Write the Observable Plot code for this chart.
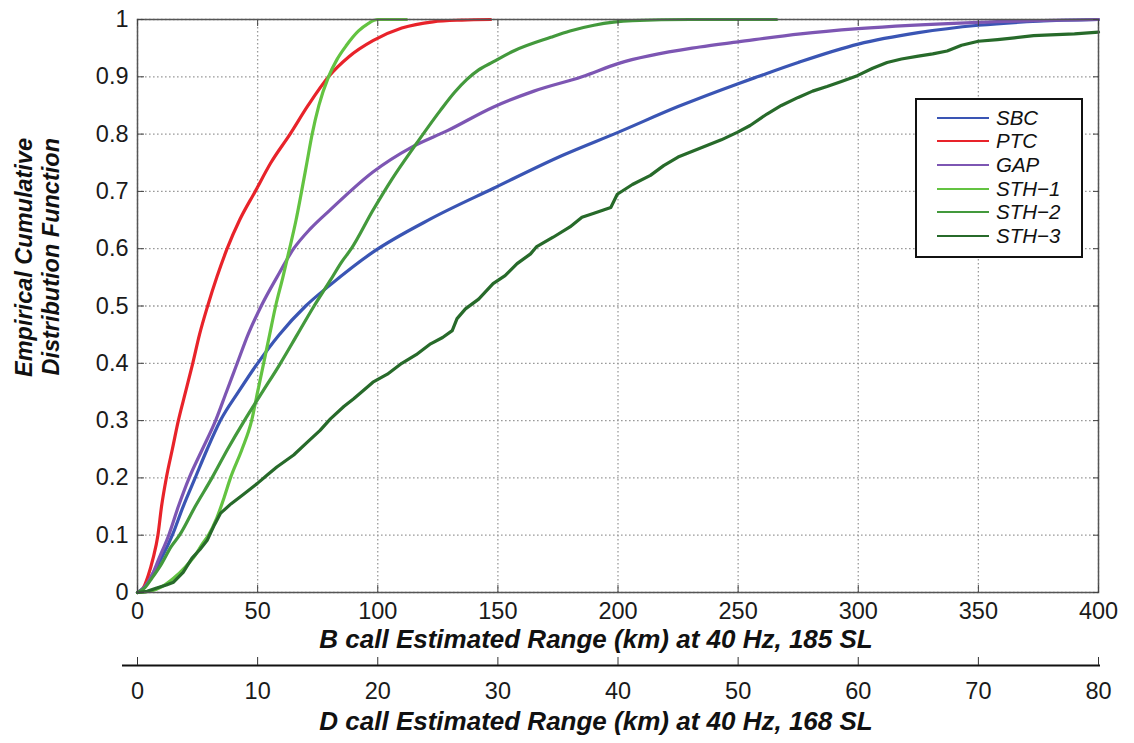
<!DOCTYPE html>
<html><head><meta charset="utf-8">
<script src="https://cdn.jsdelivr.net/npm/d3@7"></script>
<script src="https://cdn.jsdelivr.net/npm/@observablehq/plot@0.6"></script>
<style>
body{margin:0;background:#fff;font-family:"Liberation Sans",Arial,sans-serif;}
#wrap{position:relative;width:1134px;height:743px;overflow:hidden;}
#wrap svg{display:block;}
#legend{position:absolute;left:915px;top:98px;width:168px;height:160px;border:2px solid #111;background:#fff;box-sizing:border-box;padding-top:6px;}
.row{display:flex;align-items:center;height:23.6px;}
.sw{width:52px;height:2px;margin-left:20px;margin-right:7px;}
.lab{display:inline-block;font-style:italic;font-size:20.5px;color:#111;line-height:22px;height:22px;}
</style></head><body><div id="wrap"></div>
<script>
// ---- data ----
const seriesNames = ["SBC", "PTC", "GAP", "STH\u22121", "STH\u22122", "STH\u22123"];
const seriesColors = ["#3a55b4", "#e8232a", "#7d56b3", "#63c341", "#43993c", "#276a2a"];

const sbcX = [0,3,6,10,14.5,19,24,29,34.5,42,50,59,70,80,98,122,148,177,200,225,250,258,275,300,325,350,375,400];
const sbcY = [0,0.01,0.03,0.06,0.1,0.15,0.2,0.25,0.3,0.35,0.4,0.45,0.5,0.536,0.594,0.652,0.705,0.763,0.803,0.848,0.888,0.9,0.925,0.957,0.977,0.99,0.997,1];

const ptcX = [0,2,4.5,6.5,8.5,10,12,14.5,17,20,23,25.8,29.2,33,37.3,42.5,49,55.5,63.5,71,79.5,88,98,110,123,135,147];
const ptcY = [0,0.005,0.03,0.06,0.1,0.15,0.2,0.25,0.3,0.35,0.4,0.45,0.5,0.55,0.6,0.65,0.7,0.75,0.8,0.85,0.9,0.935,0.963,0.985,0.996,0.999,1];

const gapX = [0,3,6,9,13,17,21.5,27,32.5,37,41.5,46,51.5,58,65,72,80,98,114,129,148,165,185,200,234,250,276,300,350,400];
const gapY = [0,0.01,0.03,0.06,0.1,0.15,0.2,0.25,0.3,0.35,0.4,0.45,0.5,0.55,0.6,0.635,0.667,0.734,0.777,0.806,0.847,0.875,0.9,0.923,0.952,0.961,0.975,0.984,0.995,1];

const sth1X = [0,5,10,15,20,24,27,29.5,33,36,38.7,43.5,47.5,50,52.5,55,57.5,60.5,63.3,66,68.3,70.5,72.7,75.5,79.5,83,87,92,96,100,112];
const sth1Y = [0,0.002,0.01,0.025,0.045,0.065,0.085,0.1,0.13,0.165,0.2,0.25,0.3,0.35,0.4,0.45,0.5,0.55,0.6,0.65,0.7,0.75,0.8,0.85,0.9,0.93,0.955,0.98,0.993,1,1];

const sth2X = [0,3,6,10,14,17.5,24,31,37.5,44.5,52,59.5,66.5,73.5,80.3,85,89,98,106,115,126,132,137,142,148,157,172,180,190,206,230,266];
const sth2Y = [0,0.008,0.025,0.05,0.08,0.1,0.15,0.2,0.25,0.3,0.35,0.4,0.45,0.5,0.545,0.577,0.6,0.667,0.722,0.777,0.841,0.873,0.895,0.912,0.926,0.946,0.969,0.98,0.99,0.998,1,1];

const sth3X = [0,4,8,12,15,19,22.7,26,29,32,34.5,39,44.3,49.8,54,58,65,70.6,76,80.3,86,90,98,104,110,116,122,127,131,133,136.5,142,148,153,158,163.6,166,173,180,185,190,197,199.7,206,213.5,219,225,231,237,243,249.6,255,262,268,275,281,287,293,299.6,306,312,318,325,331,337,343,350,358,365,373,380,390,400];
const sth3Y = [0,0.002,0.008,0.013,0.018,0.035,0.06,0.075,0.091,0.118,0.138,0.155,0.172,0.19,0.205,0.219,0.24,0.262,0.283,0.303,0.325,0.338,0.367,0.381,0.4,0.415,0.434,0.445,0.457,0.478,0.495,0.512,0.539,0.553,0.574,0.591,0.603,0.62,0.638,0.655,0.662,0.672,0.695,0.712,0.728,0.745,0.76,0.77,0.78,0.79,0.803,0.815,0.835,0.85,0.864,0.875,0.883,0.892,0.902,0.915,0.925,0.931,0.936,0.94,0.945,0.955,0.962,0.965,0.968,0.972,0.973,0.975,0.978];

const bTicks = [0,50,100,150,200,250,300,350,400];
const dTicks = [0,10,20,30,40,50,60,70,80];
const yTicks = [0,0.1,0.2,0.3,0.4,0.5,0.6,0.7,0.8,0.9,1];
const yTickLabels = ["0","0.1","0.2","0.3","0.4","0.5","0.6","0.7","0.8","0.9","1"];

const yLabel = "Empirical Cumulative\nDistribution Function";
const bTitle = "B call Estimated Range (km) at 40 Hz, 185 SL";
const dTitle = "D call Estimated Range (km) at 40 Hz, 168 SL";

// ---- build table ----
const allX = [sbcX, ptcX, gapX, sth1X, sth2X, sth3X];
const allY = [sbcY, ptcY, gapY, sth1Y, sth2Y, sth3Y];
const rows = [];
seriesNames.forEach((s, i) => allX[i].forEach((x, j) => rows.push({series: s, x, y: allY[i][j]})));

const FONT = "'Liberation Sans', Arial, sans-serif";
const gridStyle = {stroke: "#9a9a9a", strokeOpacity: 1, strokeWidth: 1.3, strokeDasharray: "1.6,2.4"};

const plot1 = Plot.plot({
  width: 1134, height: 658,
  marginLeft: 137, marginRight: 36, marginTop: 19, marginBottom: 66,
  x: {domain: [0, 400], label: null},
  y: {domain: [0, 1], label: null},
  color: {domain: seriesNames, range: seriesColors},
  style: {fontFamily: FONT, fontSize: "23.5px", color: "#1a1a1a", background: "white", overflow: "visible"},
  marks: [
    Plot.gridX(bTicks, gridStyle),
    Plot.gridY(yTicks, gridStyle),
    Plot.line(rows.filter(d => d.series !== seriesNames[5]), {x: "x", y: "y", z: "series", stroke: "series", strokeWidth: 3.2, curve: "monotone-x"}),
    Plot.line(rows.filter(d => d.series === seriesNames[5]), {x: "x", y: "y", z: "series", stroke: "series", strokeWidth: 3.2, curve: "linear"}),
    Plot.frame({stroke: "#555", strokeWidth: 1.5}),
    Plot.axisX({ticks: bTicks, tickSize: -7, tickPadding: 17, stroke: "#444", tickFormat: d => String(d), fontSize: 23.5}),
    Plot.axisX({anchor: "top", ticks: bTicks, tickSize: -6, stroke: "#444", tickFormat: () => ""}),
    Plot.axisY({ticks: yTicks, tickSize: -7, tickPadding: 16, stroke: "#444", tickFormat: (d, i) => yTickLabels[i], fontSize: 23.5}),
    Plot.axisY({anchor: "right", ticks: yTicks, tickSize: -6, stroke: "#444", tickFormat: () => ""}),
    Plot.text([yLabel], {frameAnchor: "left", textAnchor: "end", dx: -100.5, dy: -168, rotate: -90, fontSize: 23.5, fontWeight: "bold", fontStyle: "italic", lineHeight: 1.15, fill: "#111"}),
    Plot.text([bTitle], {frameAnchor: "bottom", dy: 55, dx: -22, fontSize: 26, fontWeight: "bold", fontStyle: "italic", fill: "#111"})
  ]
});

const plot2 = Plot.plot({
  width: 1134, height: 85,
  marginLeft: 137, marginRight: 36, marginTop: 7, marginBottom: 78,
  x: {domain: [0, 80], label: null},
  y: {domain: [0, 1], axis: null},
  style: {fontFamily: FONT, fontSize: "23.5px", color: "#1a1a1a", background: "white", overflow: "visible"},
  marks: [
    Plot.ruleY([0], {stroke: "#111", strokeWidth: 2, insetLeft: -15, insetRight: -2}),
    Plot.axisX({ticks: dTicks, tickSize: -8, tickPadding: 25, stroke: "#333", tickFormat: d => String(d), fontSize: 23.5}),
    Plot.text([dTitle], {frameAnchor: "bottom", dy: 64, dx: -22, fontSize: 26, fontWeight: "bold", fontStyle: "italic", fill: "#111"})
  ]
});

const wrap = document.getElementById("wrap");
wrap.appendChild(plot1);
wrap.appendChild(plot2);

// legend
const legend = document.createElement("div");
legend.id = "legend";
seriesNames.forEach((s, i) => {
  const r = document.createElement("div");
  r.className = "row";
  const sw = document.createElement("div");
  sw.className = "sw";
  sw.style.background = seriesColors[i];
  const lab = document.createElement("span");
  lab.className = "lab";
  lab.textContent = s;
  r.appendChild(sw); r.appendChild(lab);
  legend.appendChild(r);
});
wrap.appendChild(legend);
</script>
</body></html>
